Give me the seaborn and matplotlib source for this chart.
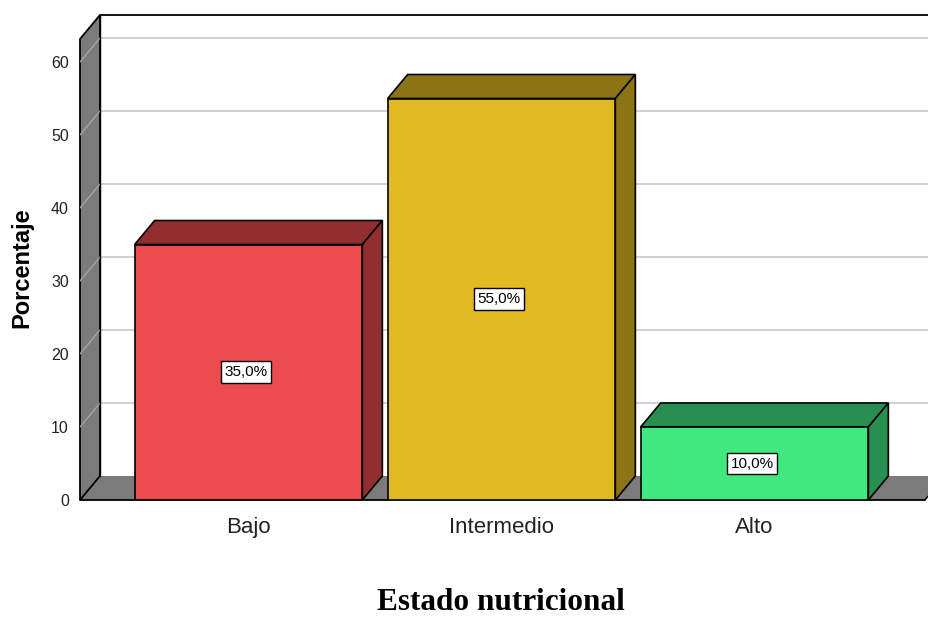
import matplotlib
matplotlib.use("Agg")
import matplotlib.pyplot as plt
from matplotlib.patches import Polygon
import seaborn as sns
import pandas as pd

# ---- data ----
categories = ["Bajo", "Intermedio", "Alto"]
percentages = [35.0, 55.0, 10.0]
value_labels = ["35,0%", "55,0%", "10,0%"]
front_colors = ["#EC4B4D", "#E0BA20", "#41E77F"]
side_colors = ["#932E30", "#8C7415", "#288F50"]
yticks = [0, 10, 20, 30, 40, 50, 60]

sns.set_theme(style="white")
plt.rcParams["font.family"] = ["Liberation Sans", "DejaVu Sans"]

W, H = 929, 617
fig = plt.figure(figsize=(W / 100, H / 100), dpi=100)
# front plane: value 0 at y=500px, 7.3 px per unit; x from 80px to 929px
ax = fig.add_axes([80 / W, (H - 500) / H, (W - 80) / W, 490 / H])

df = pd.DataFrame({"cat": categories, "pct": percentages})
sns.barplot(data=df, x="cat", y="pct", hue="cat", palette=front_colors,
            width=0.9, edgecolor="black", linewidth=1.2, legend=False,
            saturation=1, ax=ax, zorder=3)
bars = list(ax.patches)

px_per_x = 253.0
x0 = (80 - 248.5) / px_per_x
x1 = (929 - 248.5) / px_per_x
ymax = 490 / 7.3
ax.set_xlim(x0, x1)
ax.set_ylim(0, ymax)

dx = 20 / px_per_x      # depth offset in x units
dy = 24 / 7.3           # depth offset in y units

gray = "#7B7B7B"
# floor
floor_right = (925 - 248.5) / px_per_x
ax.add_patch(Polygon([(x0, 0), (floor_right, 0), (floor_right + dx, dy), (x0 + dx, dy)],
                     closed=True, facecolor=gray, edgecolor="none", zorder=1))
# left wall
top_back = (500 - 15) / 7.3
top_front = top_back - dy
ax.add_patch(Polygon([(x0, 0), (x0 + dx, dy), (x0 + dx, top_back), (x0, top_front)],
                     closed=True, facecolor=gray, edgecolor="black", linewidth=1.3,
                     zorder=1.5, clip_on=False))
# back wall gridlines
for v in yticks[1:]:
    ax.plot([x0 + dx, x1], [v + dy, v + dy], color="#D0D0D0", lw=1.4, zorder=0.5)
    ax.plot([x0, x0 + dx], [v, v + dy], color="#A8A8A8", lw=0.9, zorder=1.6)
# back wall border
ax.plot([x0 + dx, x1], [top_back, top_back], color="black", lw=1.3, zorder=1, clip_on=False)
ax.plot([x0 + dx, x0 + dx], [dy, top_back], color="black", lw=1.0, zorder=1.7)
# front baseline
ax.plot([x0, floor_right], [0, 0], color="black", lw=1.3, zorder=2, clip_on=False)
ax.plot([floor_right, floor_right + dx], [0, dy], color="black", lw=1.0, zorder=2, clip_on=False)

# 3D faces of bars
for bar, sc, lab in zip(bars, side_colors, value_labels):
    bx, bw, bh = bar.get_x(), bar.get_width(), bar.get_height()
    top = [(bx, bh), (bx + bw, bh), (bx + bw + dx, bh + dy), (bx + dx, bh + dy)]
    side = [(bx + bw, 0), (bx + bw + dx, dy), (bx + bw + dx, bh + dy), (bx + bw, bh)]
    for poly in (top, side):
        ax.add_patch(Polygon(poly, closed=True, facecolor=sc, edgecolor="black",
                             linewidth=1.2, zorder=2.9))
    ax.text(bx + bw / 2 - 0.01, bh / 2, lab, ha="center", va="center", fontsize=11,
            color="black", zorder=6,
            bbox=dict(boxstyle="square,pad=0.25", facecolor="white", edgecolor="black", lw=1))

for s in ax.spines.values():
    s.set_visible(False)
ax.set_yticks(yticks)
ax.set_yticklabels([str(v) for v in yticks], fontsize=11.5, color="#222222")
ax.tick_params(axis="y", length=0, pad=8)
ax.tick_params(axis="x", length=0, pad=12, labelsize=16, labelcolor="#222222")
ax.set_xlabel("")
ax.set_ylabel("")
ax.grid(False)
ax.set_facecolor("white")

fig.text(22 / W, 1 - 268 / H, "Porcentaje", rotation=90, ha="center", va="center",
         fontsize=17, fontweight="bold", color="black")
fig.text(501 / W, 1 - 603 / H, "Estado nutricional", ha="center", va="center",
         fontsize=22.5, fontweight="bold", family=["Liberation Serif", "DejaVu Serif"], color="black")

fig.savefig("out.png", dpi=100)
